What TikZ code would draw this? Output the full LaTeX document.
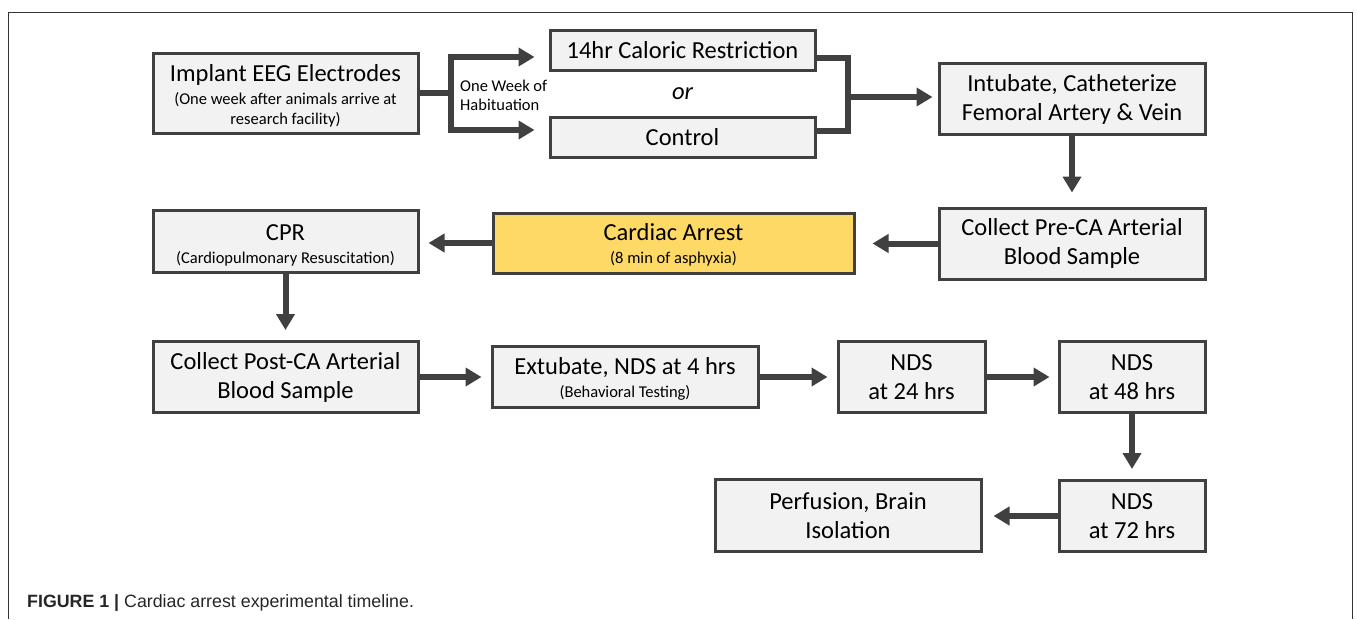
\documentclass[tikz,border=0pt]{standalone}
\usepackage{fontspec}
\setmainfont{Carlito}
\newfontfamily\capfont{Liberation Sans}
\usetikzlibrary{arrows.meta}
\definecolor{bordc}{HTML}{404040}
\definecolor{boxfill}{HTML}{F2F2F2}
\definecolor{cayellow}{HTML}{FFD966}
\newcommand{\mainf}{\fontsize{24.5}{29}\selectfont}
\newcommand{\subf}{\fontsize{16.5}{19}\selectfont}
\begin{document}
\begin{tikzpicture}[x=1pt,y=-1pt,
  box/.style={draw=bordc, line width=3pt, fill=boxfill, inner sep=0pt, align=center, font=\mainf, text=black},
  conn/.style={draw=bordc, line width=6pt, line join=miter},
  arr/.style={conn, -{Triangle[length=16pt,width=18pt]}},
  lbl/.style={inner sep=0pt, text=black},
  btxt/.style={lbl, align=center, font=\mainf}
]
\useasboundingbox (0,0) rectangle (1357,619);
\draw[line width=1pt, black!80] (8,619) -- (8,12) -- (1352,12) -- (1352,619);

% row 1
\node[box, minimum width=265, minimum height=80] (impl) at (285.5,93) {};
\node[btxt] (implt) at ([yshift=-3pt]impl.center)
  {Implant EEG Electrodes\\[-6pt]\subf (One week after animals arrive at\\[-9.5pt]\subf research facility)};
\node[box, minimum width=265, minimum height=40] (cr) at (682.5,50.5) {14hr Caloric Restriction};
\node[box, minimum width=265, minimum height=40] (ctrl) at (682.5,137) {Control};
\node[lbl, font=\mainf\itshape] (or) at (682.5,94) {or};
\node[lbl, font=\subf, align=left, anchor=west] (hab) at (460,95) {One Week of\\Habituation};
\node[box, minimum width=266, minimum height=71] (intu) at (1072,99) {Intubate, Catheterize\\Femoral Artery \& Vein};

% row 2
\node[box, minimum width=266, minimum height=71] (pre) at (1072,243.5) {Collect Pre-CA Arterial\\Blood Sample};
\node[box, minimum width=361, minimum height=60, fill=cayellow] (ca) at (673.5,243) {};
\node[btxt] (cat) at ([yshift=-2pt]ca.center) {Cardiac Arrest\\[-6pt]\subf (8 min of asphyxia)};
\node[box, minimum width=265, minimum height=62] (cpr) at (285.5,241) {};
\node[btxt] (cprt) at ([yshift=-4pt]cpr.center) {CPR\\[-6pt]\subf (Cardiopulmonary Resuscitation)};

% row 3
\node[box, minimum width=265, minimum height=71] (post) at (285.5,377) {Collect Post-CA Arterial\\Blood Sample};
\node[box, minimum width=266, minimum height=61] (ext) at (625,377) {};
\node[btxt] (extt) at ([yshift=-2pt]ext.center) {Extubate, NDS at 4 hrs\\[-6pt]\subf (Behavioral Testing)};
\node[box, minimum width=147, minimum height=71] (n24) at (911.5,377) {NDS\\at 24 hrs};
\node[box, minimum width=146, minimum height=71] (n48) at (1132,377) {NDS\\at 48 hrs};

% row 4
\node[box, minimum width=146, minimum height=71] (n72) at (1132,516) {NDS\\at 72 hrs};
\node[box, minimum width=266, minimum height=72] (perf) at (848,515.5) {Perfusion, Brain\\Isolation};

% connectors
\coordinate (bkm) at (451,93);
\coordinate (bkt) at (451,57);
\coordinate (bkb) at (451,130);
\draw[conn] (impl.east |- bkm) -- (bkm);
\draw[arr, shorten >=14pt] (bkb) -- (bkt) -- (bkt -| cr.west);
\draw[arr, shorten >=14pt] (bkt) -- (bkb) -- (bkb -| ctrl.west);

\coordinate (rbt) at (848,58);
\coordinate (rbb) at (848,131);
\coordinate (rbm) at (848,97);
\draw[conn] (rbt -| cr.east) -- (rbt) -- (rbb) -- (rbb -| ctrl.east);
\draw[arr, shorten >=5pt] (rbm) -- (rbm -| intu.west);

\draw[arr, shorten >=14pt] (intu.south) -- (pre.north);
\draw[arr, shorten >=17pt] (pre.west) -- (pre.west -| ca.east);
\draw[arr, shorten >=9pt] (ca.west) -- (ca.west -| cpr.east);
\draw[arr, shorten >=10pt] (cpr.south) -- (cpr.south |- post.north);
\draw[arr, shorten >=9pt] (post.east) -- (post.east -| ext.west);
\draw[arr, shorten >=9pt] (ext.east) -- (ext.east -| n24.west);
\draw[arr, shorten >=8pt] (n24.east) -- (n24.east -| n48.west);
\draw[arr, shorten >=10pt] (n48.south) -- (n72.north);
\draw[arr, shorten >=11pt] (n72.west) -- (n72.west -| perf.east);

% caption
\node[anchor=base west, inner sep=0pt, font=\capfont\fontsize{17.8}{20}\selectfont, text=black!85] (cap) at (27,607)
  {\textbf{FIGURE 1 |} Cardiac arrest experimental timeline.};
\end{tikzpicture}
\end{document}
